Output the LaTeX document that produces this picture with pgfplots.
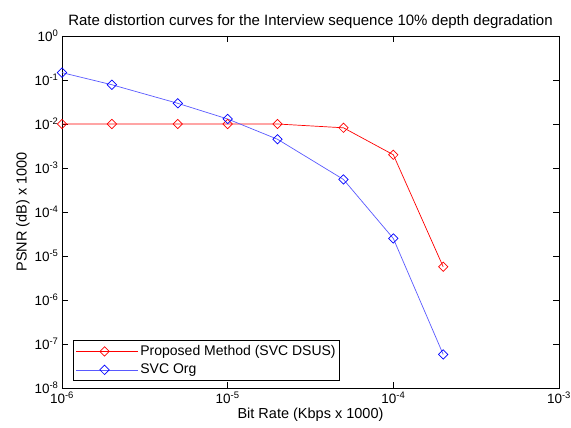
\documentclass[border=0pt]{standalone}
\usepackage{fontspec}
\setmainfont{Liberation Sans}
\usepackage{pgfplots}
\pgfplotsset{compat=1.18}
\begin{document}
\begin{tikzpicture}
\begin{axis}[
  name=ax,
  scale only axis,
  width=497pt, height=352pt,
  xmode=log, ymode=log,
  log basis x=10, log basis y=10,
  xmin=1e-6, xmax=1e-3,
  ymin=1e-8, ymax=1,
  xtick={1e-6,1e-5,1e-4,1e-3},
  ytick={1e-8,1e-7,1e-6,1e-5,1e-4,1e-3,1e-2,1e-1,1},
  xticklabel={10\textsuperscript{\pgfmathprintnumber[assume math mode=true]{\tick}}},
  yticklabel={10\textsuperscript{\pgfmathprintnumber[assume math mode=true]{\tick}}},
  tick label style={font=\fontsize{13.5}{15}\selectfont},
  label style={font=\fontsize{14.5}{16}\selectfont},
  title style={font=\fontsize{15}{17}\selectfont, yshift=-2pt},
  title={Rate distortion curves for the Interview sequence 10\% depth degradation},
  xlabel={Bit Rate (Kbps x 1000)},
  ylabel={PSNR (dB) x 1000},
  xlabel style={yshift=2pt},
  ylabel style={yshift=-2pt},
  tick align=inside,
  major tick length=6pt,
  minor tick length=3.5pt,
  axis line style={black, line width=0.8pt},
  every tick/.style={black, line width=0.6pt},
  legend style={at={(axis cs:1.17e-6,1.45e-8)}, anchor=south west,
    font=\fontsize{14}{16}\selectfont, draw=black, line width=0.8pt,
    inner xsep=2pt, inner ysep=3pt, row sep=3pt},
  legend cell align=left,
  legend image code/.code={
    \path (0pt,0pt) -- (62pt,0pt);
    \draw[#1] (6pt,0pt) -- (28.5pt,0pt) -- (51pt,0pt);
    \draw[#1, only marks] plot coordinates {(28.5pt,0pt)};
  },
]
\addplot[red, line width=0.7pt, mark=square, mark size=3.3pt,
  mark options={rotate=45, solid, line width=0.7pt}] coordinates {
  (1e-6,0.01) (2e-6,0.01) (5e-6,0.01) (1e-5,0.01) (2e-5,0.01)
  (5e-5,0.0082) (1e-4,0.0020) (2e-4,5.7e-6)
};
\addlegendentry{Proposed Method (SVC DSUS)}
\addplot[color=blue!65!white, line width=0.7pt, mark=square, mark size=3.3pt,
  mark options={rotate=45, solid, blue, line width=0.7pt}] coordinates {
  (1e-6,0.147) (2e-6,0.078) (5e-6,0.0295) (1e-5,0.013) (2e-5,0.0045)
  (5e-5,5.5e-4) (1e-4,2.5e-5) (2e-4,5.8e-8)
};
\addlegendentry{SVC Org}
\end{axis}
\pgfresetboundingbox
\path ([shift={(-62pt,-40pt)}]ax.south west) rectangle ([shift={(12pt,36pt)}]ax.north east);
\end{tikzpicture}
\end{document}
